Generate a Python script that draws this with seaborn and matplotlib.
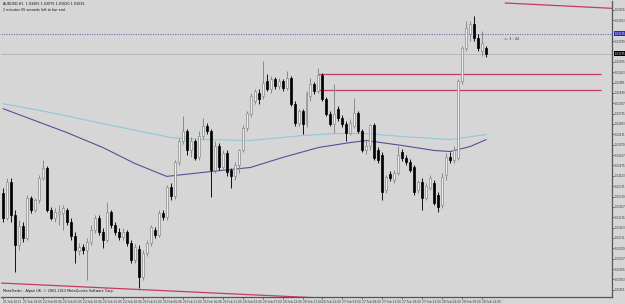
import numpy as np
import pandas as pd
import matplotlib
matplotlib.use("Agg")
import matplotlib.pyplot as plt
import seaborn as sns

# ---------------- data (AUDUSD, H1) ----------------
opens = [1.02335, 1.02210, 1.02390, 1.02225, 1.02075, 1.02170, 1.02110, 1.02310, 1.02250, 1.02300,
         1.02410, 1.02460, 1.02250, 1.02210, 1.02230, 1.02235, 1.02250, 1.02190, 1.02120, 1.02045,
         1.02065, 1.02050, 1.02090, 1.02150, 1.02210, 1.02140, 1.02100, 1.02240, 1.02175, 1.02140,
         1.02115, 1.02140, 1.02085, 1.02000, 1.02055, 1.01915, 1.02035, 1.02085, 1.02150, 1.02125,
         1.02235, 1.02215, 1.02365, 1.02320, 1.02490, 1.02600, 1.02650, 1.02550, 1.02600, 1.02515,
         1.02625, 1.02675, 1.02650, 1.02450, 1.02575, 1.02465, 1.02535, 1.02450, 1.02420, 1.02475,
         1.02550, 1.02665, 1.02735, 1.02800, 1.02840, 1.02825, 1.02900, 1.02860, 1.02910, 1.02875,
         1.02900, 1.02865, 1.02915, 1.02785, 1.02690, 1.02750, 1.02685, 1.02825, 1.02885, 1.02850,
         1.02930, 1.02810, 1.02735, 1.02685, 1.02760, 1.02715, 1.02685, 1.02640, 1.02675, 1.02740,
         1.02650, 1.02550, 1.02575, 1.02680, 1.02550, 1.02525, 1.02350, 1.02430, 1.02400, 1.02435,
         1.02540, 1.02510, 1.02490, 1.02465, 1.02350, 1.02390, 1.02310, 1.02360, 1.02385, 1.02325,
         1.02275, 1.02425, 1.02515, 1.02500, 1.02510, 1.02900, 1.03065, 1.03135, 1.03185, 1.03115,
         1.03050, 1.03065]
highs = [1.02360, 1.02410, 1.02410, 1.02250, 1.02200, 1.02190, 1.02325, 1.02320, 1.02310, 1.02425,
         1.02500, 1.02470, 1.02265, 1.02260, 1.02275, 1.02275, 1.02260, 1.02210, 1.02140, 1.02085,
         1.02080, 1.02110, 1.02175, 1.02225, 1.02225, 1.02160, 1.02290, 1.02250, 1.02190, 1.02160,
         1.02160, 1.02150, 1.02100, 1.02080, 1.02075, 1.02050, 1.02100, 1.02175, 1.02165, 1.02250,
         1.02250, 1.02375, 1.02385, 1.02500, 1.02615, 1.02725, 1.02660, 1.02620, 1.02610, 1.02650,
         1.02715, 1.02690, 1.02660, 1.02600, 1.02590, 1.02550, 1.02550, 1.02460, 1.02490, 1.02560,
         1.02680, 1.02750, 1.02840, 1.02860, 1.02860, 1.03000, 1.02935, 1.02925, 1.02920, 1.02915,
         1.02910, 1.02950, 1.02925, 1.02800, 1.02760, 1.02760, 1.02850, 1.02915, 1.02895, 1.02965,
         1.02940, 1.02820, 1.02750, 1.02885, 1.02775, 1.02730, 1.02700, 1.02710, 1.02815, 1.02750,
         1.02660, 1.02610, 1.02685, 1.02690, 1.02570, 1.02540, 1.02425, 1.02445, 1.02450, 1.02575,
         1.02560, 1.02525, 1.02505, 1.02475, 1.02400, 1.02410, 1.02385, 1.02425, 1.02400, 1.02340,
         1.02435, 1.02535, 1.02540, 1.02575, 1.02910, 1.03075, 1.03200, 1.03200, 1.03225, 1.03135,
         1.03150, 1.03075]
lows = [1.02190, 1.02200, 1.02190, 1.01940, 1.02050, 1.02090, 1.02100, 1.02235, 1.02240, 1.02285,
        1.02400, 1.02240, 1.02200, 1.02190, 1.02175, 1.02150, 1.02175, 1.02100, 1.01985, 1.02025,
        1.02030, 1.01900, 1.02075, 1.02135, 1.02125, 1.02060, 1.02090, 1.02160, 1.02125, 1.02100,
        1.02100, 1.02070, 1.01985, 1.01985, 1.01860, 1.01900, 1.02020, 1.02070, 1.02110, 1.02115,
        1.02200, 1.02200, 1.02300, 1.02305, 1.02475, 1.02585, 1.02525, 1.02515, 1.02500, 1.02500,
        1.02610, 1.02635, 1.02315, 1.02435, 1.02450, 1.02450, 1.02420, 1.02360, 1.02400, 1.02435,
        1.02540, 1.02650, 1.02720, 1.02785, 1.02785, 1.02810, 1.02850, 1.02840, 1.02860, 1.02860,
        1.02850, 1.02855, 1.02775, 1.02675, 1.02675, 1.02635, 1.02670, 1.02800, 1.02835, 1.02840,
        1.02800, 1.02725, 1.02675, 1.02640, 1.02700, 1.02670, 1.02600, 1.02630, 1.02665, 1.02640,
        1.02540, 1.02530, 1.02550, 1.02500, 1.02485, 1.02300, 1.02335, 1.02395, 1.02385, 1.02425,
        1.02495, 1.02475, 1.02440, 1.02325, 1.02335, 1.02250, 1.02300, 1.02350, 1.02275, 1.02240,
        1.02260, 1.02400, 1.02485, 1.02485, 1.02500, 1.02885, 1.03050, 1.03100, 1.03100, 1.03050,
        1.03025, 1.03020]
closes = [1.02210, 1.02390, 1.02225, 1.02075, 1.02170, 1.02110, 1.02310, 1.02250, 1.02300, 1.02410,
          1.02460, 1.02250, 1.02210, 1.02240, 1.02240, 1.02260, 1.02190, 1.02120, 1.02050, 1.02065,
          1.02050, 1.02090, 1.02150, 1.02210, 1.02140, 1.02100, 1.02240, 1.02175, 1.02140, 1.02115,
          1.02140, 1.02085, 1.02000, 1.02065, 1.01915, 1.02035, 1.02085, 1.02165, 1.02125, 1.02235,
          1.02215, 1.02365, 1.02320, 1.02490, 1.02600, 1.02650, 1.02550, 1.02600, 1.02510, 1.02625,
          1.02675, 1.02650, 1.02450, 1.02575, 1.02465, 1.02535, 1.02440, 1.02420, 1.02475, 1.02550,
          1.02665, 1.02740, 1.02825, 1.02850, 1.02810, 1.02890, 1.02860, 1.02910, 1.02875, 1.02900,
          1.02865, 1.02915, 1.02785, 1.02690, 1.02750, 1.02685, 1.02840, 1.02885, 1.02850, 1.02930,
          1.02810, 1.02735, 1.02685, 1.02735, 1.02715, 1.02685, 1.02640, 1.02690, 1.02740, 1.02650,
          1.02550, 1.02575, 1.02680, 1.02510, 1.02500, 1.02340, 1.02415, 1.02410, 1.02435, 1.02525,
          1.02510, 1.02490, 1.02450, 1.02340, 1.02390, 1.02310, 1.02370, 1.02410, 1.02285, 1.02265,
          1.02415, 1.02515, 1.02500, 1.02550, 1.02900, 1.03065, 1.03165, 1.03185, 1.03115, 1.03065,
          1.03090, 1.03035]

ma_fast_bar = [0, 12, 25, 42, 50, 62, 75, 83, 91, 100, 112, 121]
ma_fast = [1.02785, 1.02740, 1.02685, 1.02615, 1.02605, 1.02600, 1.02625, 1.02635, 1.02635, 1.02620,
           1.02605, 1.02630]
ma_slow_bar = [0, 8, 16, 25, 33, 41, 50, 62, 70, 79, 87, 91, 100, 108, 112, 117, 121]
ma_slow = [1.02760, 1.02700, 1.02640, 1.02565, 1.02485, 1.02420, 1.02440, 1.02465, 1.02515, 1.02565,
           1.02590, 1.02600, 1.02575, 1.02550, 1.02545, 1.02570, 1.02605]

level_upper = 1.02935
level_lower = 1.02855
level_start_bar = 79
bid_price = 1.03035
ask_price = 1.03135
trend_top_bars = [125.75, 155.75]
trend_top = [1.03290, 1.03260]
trend_bottom_bars = [-0.5, 79.5]
trend_bottom = [1.01885, 1.01810]

time_tick_bars = list(range(0, 121, 5))
time_labels = ["21 Feb 2013", "21 Feb 19:00", "22 Feb 00:00", "22 Feb 05:00", "22 Feb 10:00",
               "22 Feb 15:00", "22 Feb 20:00", "25 Feb 01:00", "25 Feb 06:00", "25 Feb 11:00",
               "25 Feb 16:00", "25 Feb 21:00", "26 Feb 02:00", "26 Feb 07:00", "26 Feb 12:00",
               "26 Feb 17:00", "26 Feb 22:00", "27 Feb 03:00", "27 Feb 08:00", "27 Feb 13:00",
               "27 Feb 18:00", "27 Feb 23:00", "28 Feb 04:00", "28 Feb 09:00", "28 Feb 14:00"]

# ---------------- style ----------------
BG = "#d6d6d6"
sns.set_theme(style="white")
plt.rcParams["font.family"] = ["DejaVu Sans"]

W, H = 625, 304
fig = plt.figure(figsize=(W / 100, H / 100), dpi=100, facecolor=BG)
ax = fig.add_axes([1 / W, 7 / H, 611 / W, 296 / H])
ax.set_facecolor(BG)

YTOP, YBOT = 1.03300, 1.01815
ax.set_ylim(YBOT, YTOP)
ax.set_xlim(-0.5, 152.5)

df = pd.DataFrame({"bar": np.arange(len(closes)), "open": opens, "high": highs,
                   "low": lows, "close": closes})
bull = df["close"] >= df["open"]

# moving averages
sns.lineplot(x=ma_fast_bar, y=ma_fast, ax=ax, color="#8cc8da", lw=0.8, zorder=2)
sns.lineplot(x=ma_slow_bar, y=ma_slow, ax=ax, color="#5a4e98", lw=0.8, zorder=2)

# horizontal / trend lines
ax.axhline(ask_price, color="#6b6bb0", lw=0.8, ls=(0, (1, 1.2)), zorder=1)
ax.axhline(bid_price, color="#b8b8b8", lw=0.7, zorder=1)
ax.hlines([level_upper, level_lower], level_start_bar, 149.75, color="#c43c5c", lw=0.9, zorder=2)
ax.plot(trend_top_bars, trend_top, color="#c43c5c", lw=0.9, zorder=2)
ax.plot(trend_bottom_bars, trend_bottom, color="#c43c5c", lw=0.9, zorder=2)

# candles
ax.vlines(df.loc[bull, "bar"], df.loc[bull, "low"], df.loc[bull, "high"], color="#8a8a8a", lw=0.7, zorder=3)
ax.vlines(df.loc[~bull, "bar"], df.loc[~bull, "low"], df.loc[~bull, "high"], color="#111111", lw=0.7, zorder=3)
body_b = np.minimum(df["open"], df["close"])
body_h = np.maximum(np.abs(df["close"] - df["open"]), 0.00003)
ax.bar(df.loc[bull, "bar"], body_h[bull], bottom=body_b[bull], width=0.5,
       color="#ececec", edgecolor="#8a8a8a", lw=0.5, zorder=4)
ax.bar(df.loc[~bull, "bar"], body_h[~bull], bottom=body_b[~bull], width=0.5,
       color="#000000", edgecolor="#000000", lw=0.5, zorder=4)

# axes / ticks
for s in ["top", "left"]:
    ax.spines[s].set_visible(False)
for s in ["right", "bottom"]:
    ax.spines[s].set_color("#555555")
    ax.spines[s].set_linewidth(0.9)

yt = np.arange(1.03255, YBOT, -0.00052)
yt = np.array([v for v in yt if min(abs(v - bid_price), abs(v - ask_price)) > 0.00022])
ax.yaxis.tick_right()
ax.set_yticks(yt)
ax.set_yticklabels([f"{v:.5f}" for v in yt])
ax.tick_params(axis="y", which="both", direction="out", length=1.5, width=0.5, pad=0.6,
               labelsize=1.9, colors="#333333", right=True, left=False)
ax.set_xticks(time_tick_bars)
ax.set_xticklabels(time_labels, ha="left")
ax.tick_params(axis="x", direction="out", length=1.5, width=0.5, pad=0.4,
               labelsize=2.1, colors="#333333", bottom=True)

# price boxes on axis
ax.text(1.004, ask_price, f"{ask_price:.5f}", transform=ax.get_yaxis_transform(),
        fontsize=1.9, color="white", va="center", ha="left",
        bbox=dict(boxstyle="square,pad=0.2", fc="#2b2bb0", ec="none"), clip_on=False, zorder=6)
ax.text(1.004, bid_price, f"{bid_price:.5f}", transform=ax.get_yaxis_transform(),
        fontsize=1.9, color="white", va="center", ha="left",
        bbox=dict(boxstyle="square,pad=0.2", fc="#000000", ec="none"), clip_on=False, zorder=6)

# texts
ax.text(0.004, 0.995, "AUDUSD,H1  1.03065 1.03075 1.03020 1.03035", transform=ax.transAxes,
        fontsize=2.4, color="#111111", va="top", ha="left")
ax.text(0.004, 0.978, "2 minutes 55 seconds left to bar end", transform=ax.transAxes,
        fontsize=2.4, color="#111111", va="top", ha="left")
ax.text(0.004, 0.012, "MetaTrader - Alpari UK, \u00a9 2001-2013 MetaQuotes Software Corp.",
        transform=ax.transAxes, fontsize=2.4, color="#111111", va="bottom", ha="left")
ax.text(125.5, 1.03110, "<- 3 : 44", fontsize=2.4, color="#333333", va="center", ha="left")

ax.grid(False)
fig.savefig("out.png", dpi=100, facecolor=BG)
